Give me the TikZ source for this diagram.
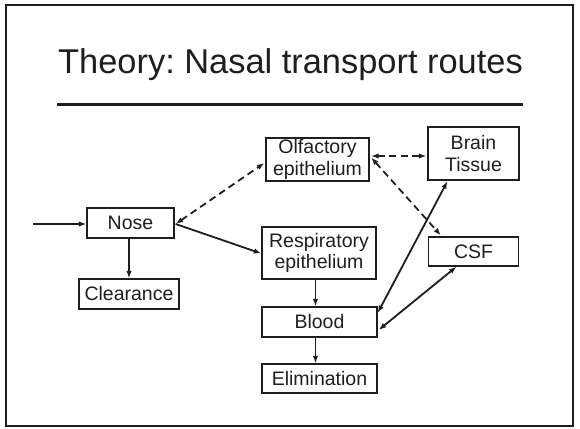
\documentclass[tikz,border=0pt]{standalone}
\usepackage{fontspec}
\setmainfont{Liberation Sans}
\usetikzlibrary{arrows.meta,calc}
\definecolor{ink}{HTML}{1E1E1E}
\frenchspacing
\tikzset{
  box/.style={draw=ink, line width=1.3pt, text=ink, inner sep=0pt, align=center,
    font=\fontsize{19.5}{21.5}\selectfont},
  tip/.style={},
  link/.style={draw=ink, line width=1.8pt, -{Latex[length=7.5pt,width=5.5pt]}},
  both/.style={link, {Latex[length=7.5pt,width=5.5pt]}-{Latex[length=7.5pt,width=5.5pt]}},
  dash2/.style={dash pattern=on 7pt off 4.5pt},
}
\begin{document}
\begin{tikzpicture}[x=1pt,y=-1pt]
\useasboundingbox (0,0) rectangle (580,428);
\draw[ink, line width=2pt] (6,5) rectangle (573,426);
\node[font=\fontsize{34.4}{40}\selectfont, text=ink, anchor=base, inner sep=0pt] (title) at (290.5,73) {Theory: Nasal transport routes};
\draw[ink, line width=3pt] (57,104) -- (523,104);

\node[box, minimum width=87pt, minimum height=30pt] (nose) at (130.5,223) {Nose};
\node[box, minimum width=100pt, minimum height=30pt] (clear) at (129,294) {Clearance};
\node[box, minimum width=103pt, minimum height=43pt] (olf) at (317.5,159.5) {Olfactory\\epithelium};
\node[box, minimum width=91pt, minimum height=53pt] (brain) at (473.5,153.5) {Brain\\Tissue};
\node[box, minimum width=114pt, minimum height=52pt] (resp) at (319,253) {Respiratory\\epithelium};
\node[box, minimum width=90pt, minimum height=29pt] (csf) at (473.5,251.5) {CSF};
\node[box, minimum width=115pt, minimum height=30pt] (blood) at (319.5,322) {Blood};
\node[box, minimum width=115pt, minimum height=29pt] (elim) at (319.5,378.5) {Elimination};

\coordinate (in) at (33,224);
\draw[link] (in) -- (in -| nose.west);
\draw[link] (clear.north |- nose.south) -- (clear.north);
\draw[both, dash2] ($(nose.east)+(1,1)$) -- ($(olf.west)+(-1,3.5)$);
\draw[link] ($(nose.east)+(1,1)$) -- ($(resp.west)+(0,0.5)$);
\draw[both, dash2] ($(olf.east)+(1.5,-3.5)$) -- ($(brain.west)+(-1,2.5)$);
\draw[both, dash2] ($(olf.east)+(1.5,-2)$) -- ($(csf.north west)+(13,-1)$);
\draw[both] ($(blood.east)+(0,-9)$) -- ($(brain.south)+(-26,0.5)$);
\draw[both] ($(blood.east)+(1,8)$) -- ($(csf.south)+(-17,0)$);
\draw[link] ($(resp.south)+(-3.5,0)$) -- ($(blood.north)+(-4,0)$);
\draw[link] ($(blood.south)+(-4,0)$) -- ($(elim.north)+(-4,0)$);
\end{tikzpicture}
\end{document}
